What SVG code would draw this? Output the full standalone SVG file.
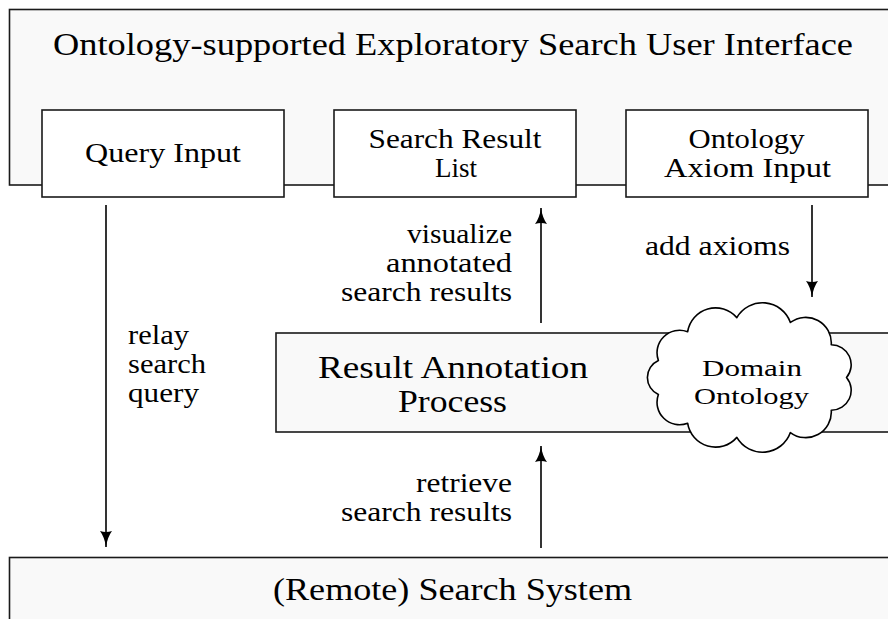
<svg xmlns="http://www.w3.org/2000/svg" width="888" height="619" viewBox="0 0 888 619">
<style>
.big{fill:#f9f9f9;stroke:#1a1a1a;stroke-width:1.6}
.box{fill:#ffffff;stroke:#1a1a1a;stroke-width:1.6}
.cloud{fill:#ffffff;stroke:#000;stroke-width:1.6;stroke-linejoin:round}
text{font-family:"Liberation Serif","Times New Roman",serif;fill:#000}
.lg{font-size:32px;text-anchor:middle}
.sm{font-size:27px;text-anchor:middle}
.cl{font-size:24px;text-anchor:middle}
.lb{font-size:27px}
.r{text-anchor:end}
.conn{stroke:#000;stroke-width:1.6;fill:none;marker-end:url(#ah)}
</style>
<defs>
<marker id="ah" markerUnits="userSpaceOnUse" markerWidth="17" markerHeight="13" refX="16" refY="6.5" orient="auto">
<path d="M0,0.5 Q6,5 16,6.5 Q6,8 0,12.5 Q2,6.5 0,0.5 Z" fill="#000"/>
</marker>
</defs>
<rect width="888" height="619" fill="#ffffff"/>
<g id="ui">
<rect class="big" x="9.5" y="9.5" width="900" height="175.5"/>
<text class="lg" x="453" y="55" textLength="800" lengthAdjust="spacingAndGlyphs">Ontology-supported Exploratory Search User Interface</text>
</g>
<g id="query-input">
<rect class="box" x="42" y="110" width="242" height="87"/>
<text class="sm" x="163" y="162" textLength="156" lengthAdjust="spacingAndGlyphs">Query Input</text>
</g>
<g id="search-result-list">
<rect class="box" x="334" y="110" width="242" height="87"/>
<text class="sm" x="455" y="148" textLength="173" lengthAdjust="spacingAndGlyphs">Search Result</text>
<text class="sm" x="456" y="177" textLength="42" lengthAdjust="spacingAndGlyphs">List</text>
</g>
<g id="ontology-axiom-input">
<rect class="box" x="626" y="110" width="242" height="87"/>
<text class="sm" x="746.5" y="148" textLength="116" lengthAdjust="spacingAndGlyphs">Ontology</text>
<text class="sm" x="747.5" y="177" textLength="167" lengthAdjust="spacingAndGlyphs">Axiom Input</text>
</g>
<g id="result-annotation">
<rect class="big" x="276" y="333" width="640" height="99"/>
<text class="lg" x="453" y="378" textLength="270" lengthAdjust="spacingAndGlyphs">Result Annotation</text>
<text class="lg" x="452.5" y="412" textLength="109" lengthAdjust="spacingAndGlyphs">Process</text>
</g>
<g id="domain-ontology">
<path class="cloud" d="M846.5,377.5 A19.9,19.9 0 0 1 831.26,410.21 A25.6,25.6 0 0 1 790.38,432.53 A29.6,29.6 0 0 1 736.84,437.38 A28.2,28.2 0 0 1 687.63,423.22 A22.5,22.5 0 0 1 658.39,394.54 A18.7,18.7 0 0 1 658.39,360.46 A22.5,22.5 0 0 1 687.63,331.78 A28.2,28.2 0 0 1 736.84,317.62 A29.6,29.6 0 0 1 790.38,322.47 A25.6,25.6 0 0 1 831.26,344.79 A19.9,19.9 0 0 1 846.5,377.5 Z"/>
<text class="cl" x="752" y="376" textLength="100" lengthAdjust="spacingAndGlyphs">Domain</text>
<text class="cl" x="751.5" y="404" textLength="115" lengthAdjust="spacingAndGlyphs">Ontology</text>
</g>
<g id="search-system">
<rect class="big" x="9.5" y="557.5" width="900" height="80"/>
<text class="lg" x="452.5" y="600" textLength="359" lengthAdjust="spacingAndGlyphs">(Remote) Search System</text>
</g>
<g id="connectors">
<line class="conn" x1="106" y1="205" x2="106" y2="547"/>
<line class="conn" x1="541" y1="323" x2="541" y2="208"/>
<line class="conn" x1="812" y1="205" x2="812" y2="297"/>
<line class="conn" x1="541" y1="548" x2="541" y2="446"/>
<text class="lb" x="128" y="344" textLength="61" lengthAdjust="spacingAndGlyphs">relay</text>
<text class="lb" x="128" y="373" textLength="78" lengthAdjust="spacingAndGlyphs">search</text>
<text class="lb" x="128" y="402" textLength="71" lengthAdjust="spacingAndGlyphs">query</text>
<text class="lb r" x="512" y="243" textLength="105" lengthAdjust="spacingAndGlyphs">visualize</text>
<text class="lb r" x="512" y="272" textLength="126" lengthAdjust="spacingAndGlyphs">annotated</text>
<text class="lb r" x="512" y="301" textLength="171" lengthAdjust="spacingAndGlyphs">search results</text>
<text class="lb" x="645" y="255" textLength="145" lengthAdjust="spacingAndGlyphs">add axioms</text>
<text class="lb r" x="512" y="492" textLength="96" lengthAdjust="spacingAndGlyphs">retrieve</text>
<text class="lb r" x="512" y="521" textLength="171" lengthAdjust="spacingAndGlyphs">search results</text>
</g>
</svg>
